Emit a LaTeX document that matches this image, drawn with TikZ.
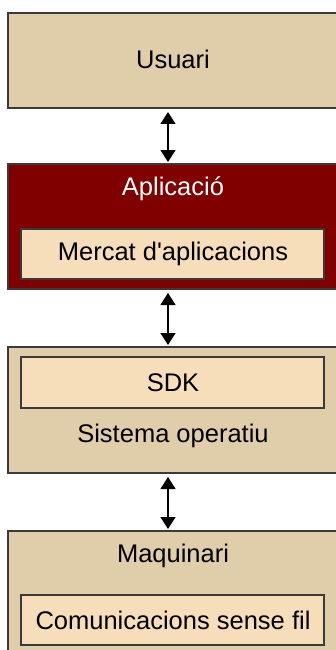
\documentclass[tikz,border=0pt]{standalone}
\usepackage{fontspec}
\setmainfont{Liberation Sans}
\usetikzlibrary{arrows.meta}
\definecolor{outertan}{HTML}{E0CDAA}
\definecolor{innerwheat}{HTML}{F5DEB9}
\definecolor{appred}{HTML}{800000}
\definecolor{edgegray}{HTML}{3A3A3A}
\begin{document}
\begin{tikzpicture}[x=1pt,y=-1pt,
  box/.style={draw=edgegray, line width=1.3pt, anchor=north west, inner sep=0pt, outer sep=0pt, minimum width=331pt},
  outerbox/.style={box, fill=outertan},
  appbox/.style={box, fill=appred},
  innerbox/.style={box, fill=innerwheat, minimum width=303pt, minimum height=50pt},
  lbl/.style={font=\fontsize{25.5}{30}\selectfont, inner sep=0pt, anchor=center},
  conn/.style={{Triangle[width=15pt,length=12pt]}-{Triangle[width=15pt,length=12pt]}, line width=1.3pt, black, shorten <=4pt, shorten >=2pt}]
\clip (0,0) rectangle (336,650);
\coordinate (ax) at (168,0);
% layers
\node[outerbox, minimum height=95pt] (usuari) at (8,13) {};
\node[appbox, minimum height=125pt] (app) at (8,164) {};
\node[outerbox, minimum height=126pt] (os) at (8,347) {};
\node[outerbox, minimum height=140pt] (hw) at (8,531) {};
% inner boxes
\node[innerbox] (mercat) at (21,229) {};
\node[innerbox, minimum height=51pt] (sdk) at (21,357) {};
\node[innerbox] (wifi) at (21,595) {};
% labels
\node[lbl] (tusuari) at (173,59) {Usuari};
\node[lbl, white] (tapp) at (173,189) {Aplicació};
\node[lbl] (tmercat) at (173,254) {Mercat d\textquotesingle aplicacions};
\node[lbl] (tsdk) at (173,383) {SDK};
\node[lbl] (tos) at (173,436) {Sistema operatiu};
\node[lbl] (thw) at (173,556) {Maquinari};
\node[lbl] (twifi) at (173,620) {Comunicacions sense fil};
% connectors
\draw[conn] (usuari.south -| ax) -- (app.north -| ax);
\draw[conn] (app.south -| ax) -- (os.north -| ax);
\draw[conn] (os.south -| ax) -- (hw.north -| ax);
\end{tikzpicture}
\end{document}
